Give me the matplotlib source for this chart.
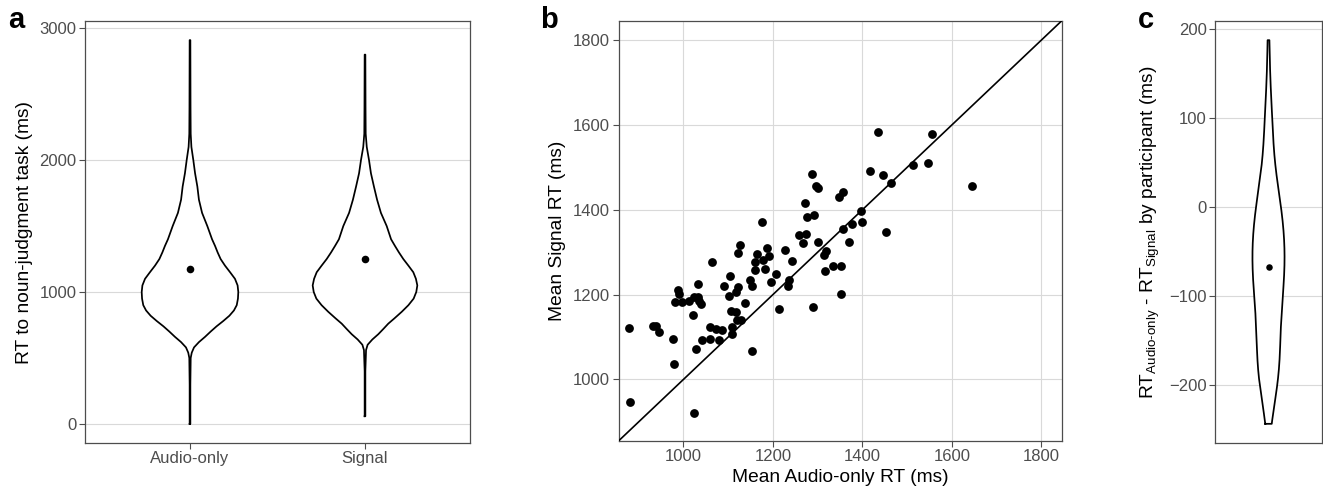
import matplotlib

matplotlib.use("Agg")
import matplotlib.pyplot as plt
import numpy as np

plt.rcParams["font.family"] = ["Liberation Sans", "DejaVu Sans"]
plt.rcParams["mathtext.fontset"] = "custom"
plt.rcParams["mathtext.rm"] = "Liberation Sans"
plt.rcParams["mathtext.it"] = "Liberation Sans:italic"

# panel a: violin outlines (RT in ms, half-width in category units)
categories = ["Audio-only", "Signal"]
audio_rt = [0, 300, 500, 540, 580, 620, 660, 700, 740, 780, 820, 860, 900, 950, 1000,
            1050, 1100, 1150, 1200, 1250, 1300, 1350, 1400, 1500, 1600, 1700, 1800,
            1900, 2000, 2100, 2200, 2400, 2910]
audio_half = [0.002, 0.002, 0.004, 0.01, 0.023, 0.051, 0.086, 0.118, 0.152, 0.19, 0.225,
              0.251, 0.267, 0.274, 0.276, 0.272, 0.257, 0.229, 0.2, 0.175, 0.158, 0.143,
              0.126, 0.099, 0.069, 0.051, 0.042, 0.029, 0.019, 0.008, 0.004, 0.003, 0.002]
signal_rt = [58, 400, 560, 600, 640, 680, 720, 760, 800, 850, 900, 950, 1000, 1050, 1100,
             1150, 1200, 1250, 1300, 1350, 1400, 1500, 1600, 1700, 1800, 1900, 2000, 2100,
             2200, 2400, 2800]
signal_half = [0.002, 0.002, 0.006, 0.015, 0.042, 0.076, 0.105, 0.133, 0.168, 0.21, 0.248,
               0.278, 0.293, 0.299, 0.291, 0.276, 0.248, 0.219, 0.194, 0.171, 0.149, 0.124,
               0.091, 0.069, 0.051, 0.034, 0.023, 0.01, 0.004, 0.003, 0.002]
mean_rt = [1174, 1247]

# panel b: participant means (ms)
audio_mean = [1434, 1555, 1416, 1446, 1513, 1546, 1465, 1644, 1396, 1377, 1399, 1452, 1371,
              1288, 1296, 1300, 1272, 1276, 1292, 1259, 1275, 1267, 1347, 1356, 1356, 1301,
              1314, 1318, 1316, 1334, 1353, 1353, 1289,
              1176, 1127, 1122, 1186, 1164, 1192, 1227, 1160, 1177, 1243, 1161, 1182, 1206,
              1105, 1149, 1153, 1195, 1237, 1233, 1123, 1118, 1102, 1137, 1213, 1106, 1118,
              1120, 1129, 1108, 1108, 1153,
              1064, 1032, 1091, 988, 991, 982, 996, 1013, 1023, 1032, 1034, 1039, 1021, 879,
              932, 939, 945, 977, 1060, 1074, 1086, 1042, 1060, 1079, 1029, 980, 880, 1024]
signal_mean = [1584, 1578, 1492, 1482, 1506, 1511, 1464, 1457, 1397, 1366, 1372, 1348, 1325,
               1485, 1456, 1451, 1416, 1384, 1388, 1340, 1344, 1322, 1430, 1441, 1355, 1325,
               1293, 1303, 1256, 1267, 1267, 1202, 1171,
               1371, 1317, 1298, 1311, 1296, 1292, 1305, 1278, 1282, 1279, 1258, 1260, 1249,
               1245, 1235, 1220, 1230, 1234, 1220, 1219, 1206, 1197, 1181, 1165, 1161, 1159,
               1141, 1141, 1124, 1107, 1066,
               1277, 1224, 1220, 1210, 1202, 1183, 1183, 1186, 1194, 1194, 1186, 1178, 1151,
               1122, 1125, 1127, 1111, 1096, 1123, 1118, 1116, 1094, 1096, 1094, 1072, 1037,
               948, 922]

GRID = "#d9d9d9"
BORDER = "#4d4d4d"
TICK = "#4d4d4d"
TITLE_SIZE = 13.8
TICK_SIZE = 12


def style_axis(ax, xgrid=True):
    for spine in ax.spines.values():
        spine.set_color(BORDER)
        spine.set_linewidth(0.9)
    ax.tick_params(colors=BORDER, labelcolor=TICK, labelsize=TICK_SIZE, length=4, width=0.8, pad=2)
    ax.grid(True, axis="y", color=GRID, linewidth=0.8)
    if xgrid:
        ax.grid(True, axis="x", color=GRID, linewidth=0.8)
    ax.set_axisbelow(True)


def draw_violin(ax, pos, values, half):
    values = np.asarray(values, dtype=float)
    half = np.asarray(half, dtype=float)
    xs = np.concatenate([pos - half, (pos + half)[::-1], [pos - half[0]]])
    ys = np.concatenate([values, values[::-1], [values[0]]])
    ax.fill(xs, ys, facecolor="white", edgecolor="none", zorder=2)
    ax.plot(xs, ys, color="black", linewidth=1.25, zorder=3)


fig = plt.figure(figsize=(13.23, 4.90), dpi=100)
W, H = 1323, 490


def add_axes(left, top, right, bottom):
    return fig.add_axes([left / W, 1 - bottom / H, (right - left) / W, (bottom - top) / H])


# a
ax_a = add_axes(85, 21, 470, 443)
style_axis(ax_a, xgrid=False)
draw_violin(ax_a, 1, audio_rt, audio_half)
draw_violin(ax_a, 2, signal_rt, signal_half)
ax_a.scatter([1, 2], mean_rt, s=30, color="black", zorder=4, linewidths=0)
ax_a.set_xlim(0.4, 2.6)
ax_a.set_ylim(-145, 3055)
ax_a.set_xticks([1, 2], categories)
ax_a.set_yticks([0, 1000, 2000, 3000])
ax_a.set_ylabel("RT to noun-judgment task (ms)", fontsize=TITLE_SIZE, labelpad=5)

# b
ax_b = add_axes(618.5, 21, 1061.5, 441)
style_axis(ax_b)
ax_b.scatter(audio_mean, signal_mean, s=40, color="black", linewidths=0, zorder=4)
ax_b.set_xlim(855, 1845)
ax_b.set_ylim(855, 1845)
ax_b.axline((1000, 1000), slope=1, color="black", linewidth=1.2, zorder=3)
ax_b.set_xticks([1000, 1200, 1400, 1600, 1800])
ax_b.set_yticks([1000, 1200, 1400, 1600, 1800])
ax_b.set_xlabel("Mean Audio-only RT (ms)", fontsize=TITLE_SIZE, labelpad=3)
ax_b.set_ylabel("Mean Signal RT (ms)", fontsize=TITLE_SIZE, labelpad=5)

# c: per-participant difference, KDE (Silverman / nrd0 bandwidth) trimmed to data range
diff = np.asarray(audio_mean, dtype=float) - np.asarray(signal_mean, dtype=float)
iqr = np.subtract(*np.percentile(diff, [75, 25]))
bw = 0.9 * min(diff.std(ddof=1), iqr / 1.34) * len(diff) ** (-0.2)
grid = np.linspace(diff.min(), diff.max(), 512)
dens = np.exp(-0.5 * ((grid[:, None] - diff[None, :]) / bw) ** 2).sum(axis=1)
dens = dens / dens.max() * 0.18

ax_c = add_axes(1215, 21, 1322, 443)
style_axis(ax_c, xgrid=False)
draw_violin(ax_c, 1, grid, dens)
ax_c.scatter([1], [diff.mean()], s=22, color="black", zorder=4, linewidths=0)
ax_c.set_xlim(0.4, 1.6)
span = diff.max() - diff.min()
ax_c.set_ylim(diff.min() - 0.05 * span, diff.max() + 0.05 * span)
ax_c.set_xticks([])
ax_c.set_yticks([-200, -100, 0, 100, 200])
ax_c.set_ylabel(r"RT$_{\mathregular{Audio\text{-}only}}$ - RT$_{\mathregular{Signal}}$ by participant (ms)",
                fontsize=TITLE_SIZE, labelpad=5)

for label, x in [("a", 8), ("b", 540), ("c", 1138)]:
    fig.text(x / W, 1 - 6 / H, label, fontsize=21, fontweight="bold", va="top", ha="left")

fig.savefig("out.png", dpi=100)
